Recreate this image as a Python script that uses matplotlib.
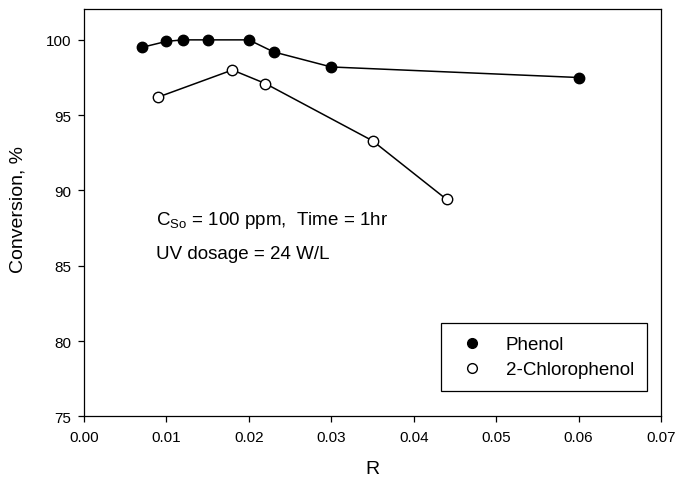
import matplotlib
matplotlib.use("Agg")
import matplotlib.pyplot as plt
from matplotlib.lines import Line2D

# Data
phenol_R = [0.007, 0.010, 0.012, 0.015, 0.020, 0.023, 0.030, 0.060]
phenol_conv = [99.5, 99.9, 100.0, 100.0, 100.0, 99.2, 98.2, 97.5]
chloro_R = [0.009, 0.018, 0.022, 0.035, 0.044]
chloro_conv = [96.2, 98.0, 97.1, 93.3, 89.4]
x_ticks = [0.00, 0.01, 0.02, 0.03, 0.04, 0.05, 0.06, 0.07]
y_ticks = [75, 80, 85, 90, 95, 100]
series_names = ["Phenol", "2-Chlorophenol"]

plt.rcParams['font.family'] = ['Liberation Sans', 'DejaVu Sans']
plt.rcParams['mathtext.fontset'] = 'custom'
plt.rcParams['mathtext.rm'] = 'Liberation Sans'

fig = plt.figure(figsize=(6.78, 4.81), dpi=100)
ax = fig.add_axes([84/678, 1 - 417.3/481, 577/678, 407.3/481])

ax.plot(phenol_R, phenol_conv, color='black', lw=1.1, marker='o', ms=7.5,
        mfc='black', mec='black', mew=1.0, zorder=3)
ax.plot(chloro_R, chloro_conv, color='black', lw=1.1, marker='o', ms=7.5,
        mfc='white', mec='black', mew=1.0, zorder=3)

ax.set_xlim(0, 0.07)
ax.set_ylim(75, 102.05)
ax.set_xticks(x_ticks)
ax.set_xticklabels([f"{v:.2f}" for v in x_ticks])
ax.set_yticks(y_ticks)
ax.tick_params(direction='out', length=4.3, width=0.9, labelsize=11)
ax.tick_params(axis='y', pad=5)
ax.tick_params(axis='x', pad=5.5)
for s in ax.spines.values():
    s.set_linewidth(0.9)

ax.set_xlabel("R", fontsize=14)
ax.set_ylabel("Conversion, %", fontsize=14)
ax.xaxis.set_label_coords(0.5, -0.107)
ax.yaxis.set_label_coords(-0.1005, 0.509)

ax.text(0.125, 0.472, r"C$_{\mathregular{So}}$ = 100 ppm,  Time = 1hr",
        transform=ax.transAxes, fontsize=13.5, va='baseline', ha='left')
ax.text(0.125, 0.3887, "UV dosage = 24 W/L",
        transform=ax.transAxes, fontsize=13.5, va='baseline', ha='left')

handles = [
    Line2D([], [], ls='none', marker='o', ms=7, mfc='black', mec='black'),
    Line2D([], [], ls='none', marker='o', ms=7, mfc='white', mec='black'),
]
leg = ax.legend(handles, series_names, loc='upper left',
                bbox_to_anchor=((440.7-84)/577, (417.3-324.3)/407.3),
                borderaxespad=0, fontsize=13.5, frameon=True, fancybox=False,
                shadow=False, borderpad=0.69, handlelength=2.0,
                handletextpad=0.79, labelspacing=0.42)
leg.get_frame().set_edgecolor('black')
leg.get_frame().set_linewidth(0.9)
leg.get_frame().set_alpha(1)

fig.savefig("out.png", dpi=100)
